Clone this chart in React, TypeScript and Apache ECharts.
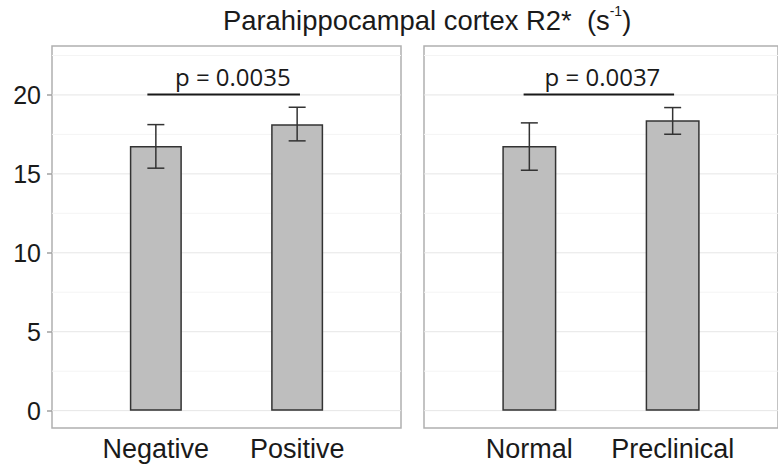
import React, { useEffect, useRef } from "react";
import * as echarts from "echarts";

// ---- data ----
const titleMain = "Parahippocampal cortex R2*  (s";
const titleSup = "-1";
const titleEnd = ")";
const leftCategories = ["Negative", "Positive"];
const rightCategories = ["Normal", "Preclinical"];
const leftMeans = [16.77, 18.15];
const leftLower = [15.36, 17.09];
const leftUpper = [18.12, 19.22];
const rightMeans = [16.77, 18.4];
const rightLower = [15.23, 17.51];
const rightUpper = [18.23, 19.2];
const leftBracket = [0.94, 2.02, 20.03, 1.545];
const rightBracket = [0.96, 2.01, 20.03, 1.51];
const leftPText = "p = 0.0035";
const rightPText = "p = 0.0037";
const yMajorTicks = [0, 5, 10, 15, 20];
const yMinorTicks = [2.5, 7.5, 12.5, 17.5, 22.5];

const Y_MIN = -1.1;
const Y_MAX = 23.1;
const X_MIN = 0.265;
const X_MAX = 2.735;

const gridLineRender = (color: string) => (params: any, api: any) => {
  const cs = params.coordSys;
  const y = api.coord([1.5, api.value(1)])[1];
  return {
    type: "line",
    shape: { x1: cs.x, y1: y, x2: cs.x + cs.width, y2: y },
    style: { stroke: color, lineWidth: 1 },
    silent: true,
  };
};

const errorRender = (params: any, api: any) => {
  const x = api.value(0);
  const top = api.coord([x, api.value(2)]);
  const bot = api.coord([x, api.value(1)]);
  const hw = 8.5;
  const st = { stroke: "#333333", lineWidth: 1.5 };
  return {
    type: "group",
    children: [
      { type: "line", shape: { x1: top[0], y1: top[1], x2: bot[0], y2: bot[1] }, style: st },
      { type: "line", shape: { x1: top[0] - hw, y1: top[1], x2: top[0] + hw, y2: top[1] }, style: st },
      { type: "line", shape: { x1: bot[0] - hw, y1: bot[1], x2: bot[0] + hw, y2: bot[1] }, style: st },
    ],
  };
};

const bracketRender = (texts: string[]) => (params: any, api: any) => {
  const p1 = api.coord([api.value(0), api.value(2)]);
  const p2 = api.coord([api.value(1), api.value(2)]);
  const tc = api.coord([api.value(3), api.value(2)]);
  const t = texts[params.dataIndex];
  return {
    type: "group",
    children: [
      {
        type: "line",
        shape: { x1: p1[0], y1: p1[1], x2: p2[0], y2: p2[1] },
        style: { stroke: "#1a1a1a", lineWidth: 2 },
      },
      {
        type: "text",
        x: tc[0],
        y: tc[1] - 17.5,
        style: {
          text: t,
          fill: "#1a1a1a",
          fontFamily: "Open Sans",
          fontSize: 24,
          align: "center",
          verticalAlign: "middle",
          textAlign: "center",
          textVerticalAlign: "middle",
        },
      },
    ],
  };
};

function makeXAxis(gridIndex: number, cats: string[]) {
  return {
    type: "value",
    gridIndex,
    min: X_MIN,
    max: X_MAX,
    axisLine: { show: false },
    axisTick: { show: false },
    splitLine: { show: false },
    axisLabel: {
      customValues: [1, 2],
      formatter: (v: number) => cats[Math.round(v) - 1] ?? "",
      fontFamily: "Liberation Sans",
      fontSize: 27,
      lineHeight: 27,
      color: "#1a1a1a",
      margin: 7,
    },
  };
}

function makeYAxis(gridIndex: number, showLabels: boolean) {
  return {
    type: "value",
    gridIndex,
    min: Y_MIN,
    max: Y_MAX,
    axisLine: { show: false },
    splitLine: { show: false },
    axisTick: {
      show: showLabels,
      customValues: yMajorTicks,
      length: 5,
      lineStyle: { color: "#a0a0a0", width: 1.5 },
    },
    axisLabel: {
      show: showLabels,
      customValues: yMajorTicks,
      fontFamily: "Liberation Sans",
      fontSize: 25,
      color: "#1a1a1a",
      margin: 11,
    },
  };
}

function panelSeries(
  idx: number,
  means: number[],
  lower: number[],
  upper: number[],
  bracket: number[],
  pText: string,
  barWidth: number
) {
  return [
    {
      type: "custom",
      xAxisIndex: idx,
      yAxisIndex: idx,
      z: 1,
      silent: true,
      renderItem: gridLineRender("#f4f4f4"),
      encode: { x: 0, y: 1 },
      data: yMinorTicks.map((v) => [1.5, v]),
    },
    {
      type: "custom",
      xAxisIndex: idx,
      yAxisIndex: idx,
      z: 1,
      silent: true,
      renderItem: gridLineRender("#e6e6e6"),
      encode: { x: 0, y: 1 },
      data: yMajorTicks.map((v) => [1.5, v]),
    },
    {
      type: "bar",
      xAxisIndex: idx,
      yAxisIndex: idx,
      z: 2,
      barWidth,
      itemStyle: { color: "#bebebe", borderColor: "#333333", borderWidth: 1.5 },
      data: means.map((m, i) => [i + 1, m]),
    },
    {
      type: "custom",
      xAxisIndex: idx,
      yAxisIndex: idx,
      z: 3,
      renderItem: errorRender,
      encode: { x: 0, y: [1, 2] },
      data: means.map((_, i) => [i + 1, lower[i], upper[i]]),
    },
    {
      type: "custom",
      xAxisIndex: idx,
      yAxisIndex: idx,
      z: 3,
      renderItem: bracketRender([pText]),
      encode: { x: [0, 1, 3], y: 2 },
      data: [bracket],
    },
  ];
}

export default function App() {
  const ref = useRef<HTMLDivElement>(null);
  useEffect(() => {
    const chart = echarts.init(ref.current!, null, { renderer: "svg" });
    const option: any = {
      animation: false,
      backgroundColor: "#ffffff",
      title: {
        text: `{t|${titleMain}}{s|${titleSup}}{t|${titleEnd}}`,
        left: 223,
        top: 4,
        padding: 0,
        textStyle: {
          fontWeight: "normal",
          rich: {
            t: { fontFamily: "Liberation Sans", fontSize: 27.4, fontWeight: "normal", lineHeight: 32, color: "#1a1a1a" },
            s: {
              fontFamily: "Liberation Sans",
              fontSize: 14,
              fontWeight: "normal",
              lineHeight: 26,
              verticalAlign: "top",
              color: "#1a1a1a",
            },
          },
        },
      },
      grid: [
        { left: 52, top: 46, width: 349, height: 382, show: true, borderColor: "#b0b0b0", borderWidth: 1.5, backgroundColor: "transparent" },
        { left: 424, top: 46, width: 360, height: 382, show: true, borderColor: "#b0b0b0", borderWidth: 1.5, backgroundColor: "transparent" },
      ],
      xAxis: [makeXAxis(0, leftCategories), makeXAxis(1, rightCategories)],
      yAxis: [makeYAxis(0, true), makeYAxis(1, false)],
      series: [
        ...panelSeries(0, leftMeans, leftLower, leftUpper, leftBracket, leftPText, 52),
        ...panelSeries(1, rightMeans, rightLower, rightUpper, rightBracket, rightPText, 54),
      ],
    };
    chart.setOption(option);
    return () => chart.dispose();
  }, []);
  return (
    <div
      ref={ref}
      style={{ position: "fixed", left: 0, top: 0, width: 778, height: 466, background: "#fff" }}
    />
  );
}
